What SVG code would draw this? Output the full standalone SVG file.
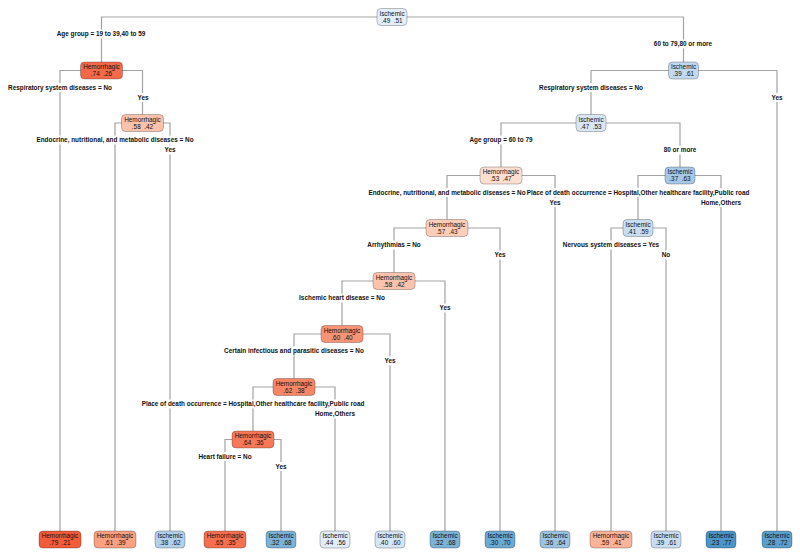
<svg xmlns="http://www.w3.org/2000/svg" width="800" height="557" viewBox="0 0 800 557">
<style>
.ln{fill:none;stroke:#a3a3a3;stroke-width:1.2}
.bx{stroke:#000;stroke-opacity:0.32;stroke-width:0.8}
.nt{font-family:"Liberation Sans",Arial,sans-serif;font-size:6.4px;fill:#111;text-anchor:middle;white-space:pre}
.lb{font-family:"Liberation Sans",Arial,sans-serif;font-size:6.4px;font-weight:bold;fill:#111;text-anchor:middle}
.bg{fill:#fff}
</style>
<rect width="800" height="557" fill="#fff"/>
<g id="connectors">
<path class="ln" d="M101.5 62 V17 H683.5 V62"/>
<path class="ln" d="M60 531 V70.5 H142.5 V114.5"/>
<path class="ln" d="M115 531 V123 H170 V531"/>
<path class="ln" d="M591 114.5 V70.5 H777 V531"/>
<path class="ln" d="M501 167 V123 H680 V167"/>
<path class="ln" d="M447 219.5 V175.5 H555 V531"/>
<path class="ln" d="M638 219.5 V175.5 H721 V531"/>
<path class="ln" d="M611 531 V228 H666 V531"/>
<path class="ln" d="M394 272.5 V228 H500 V531"/>
<path class="ln" d="M342 325.5 V281 H445 V531"/>
<path class="ln" d="M294 378.5 V334 H390 V531"/>
<path class="ln" d="M253 431 V387 H335 V531"/>
<path class="ln" d="M225 531 V439.5 H281 V531"/>
</g>
<g id="labels">
<rect class="bg" x="56" y="29.5" width="91" height="9"/><text class="lb" x="101" y="36.3">Age group = 19 to 39,40 to 59</text>
<rect class="bg" x="653" y="39.5" width="60" height="9"/><text class="lb" x="683" y="46.3">60 to 79,80 or more</text>
<rect class="bg" x="7" y="83" width="106" height="9"/><text class="lb" x="60" y="89.8">Respiratory system diseases = No</text>
<rect class="bg" x="136" y="93" width="14" height="9"/><text class="lb" x="143" y="99.8">Yes</text>
<rect class="bg" x="538" y="83" width="106" height="9"/><text class="lb" x="591" y="89.8">Respiratory system diseases = No</text>
<rect class="bg" x="770" y="93" width="14" height="9"/><text class="lb" x="777" y="99.8">Yes</text>
<rect class="bg" x="36" y="135.5" width="158" height="9"/><text class="lb" x="115" y="142.3">Endocrine, nutritional, and metabolic diseases = No</text>
<rect class="bg" x="163" y="145.5" width="14" height="9"/><text class="lb" x="170" y="152.3">Yes</text>
<rect class="bg" x="468.5" y="135.5" width="65" height="9"/><text class="lb" x="501" y="142.3">Age group = 60 to 79</text>
<rect class="bg" x="662.5" y="145.5" width="35" height="9"/><text class="lb" x="680" y="152.3">80 or more</text>
<rect class="bg" x="369" y="188" width="156" height="9"/><text class="lb" x="447" y="194.8">Endocrine, nutritional, and metabolic diseases = No</text>
<rect class="bg" x="548" y="198" width="14" height="9"/><text class="lb" x="555" y="204.8">Yes</text>
<rect class="bg" x="527" y="188" width="222" height="9"/><text class="lb" x="638" y="194.8">Place of death occurrence = Hospital,Other healthcare facility,Public road</text>
<rect class="bg" x="700" y="198" width="42" height="9"/><text class="lb" x="721" y="204.8">Home,Others</text>
<rect class="bg" x="366.5" y="240.5" width="55" height="9"/><text class="lb" x="394" y="247.3">Arrhythmias = No</text>
<rect class="bg" x="493" y="250.5" width="14" height="9"/><text class="lb" x="500" y="257.3">Yes</text>
<rect class="bg" x="562" y="240.5" width="98" height="9"/><text class="lb" x="611" y="247.3">Nervous system diseases = Yes</text>
<rect class="bg" x="660.5" y="250.5" width="11" height="9"/><text class="lb" x="666" y="257.3">No</text>
<rect class="bg" x="298.5" y="293.5" width="87" height="9"/><text class="lb" x="342" y="300.3">Ischemic heart disease = No</text>
<rect class="bg" x="438" y="303.5" width="14" height="9"/><text class="lb" x="445" y="310.3">Yes</text>
<rect class="bg" x="223.5" y="346.5" width="141" height="9"/><text class="lb" x="294" y="353.3">Certain infectious and parasitic diseases = No</text>
<rect class="bg" x="383" y="356.5" width="14" height="9"/><text class="lb" x="390" y="363.3">Yes</text>
<rect class="bg" x="142" y="399.5" width="222" height="9"/><text class="lb" x="253" y="406.3">Place of death occurrence = Hospital,Other healthcare facility,Public road</text>
<rect class="bg" x="314" y="409.5" width="42" height="9"/><text class="lb" x="335" y="416.3">Home,Others</text>
<rect class="bg" x="197.5" y="452" width="55" height="9"/><text class="lb" x="225" y="458.8">Heart failure = No</text>
<rect class="bg" x="274" y="462" width="14" height="9"/><text class="lb" x="281" y="468.8">Yes</text>
</g>
<g id="n1"><rect class="bx" x="377" y="8.5" width="30" height="17" rx="4" fill="#E4EEF8"/><text class="nt" x="392" y="15.8">Ischemic</text><text class="nt" x="392" y="22.8">.49  .51</text></g>
<g id="n2"><rect class="bx" x="80.5" y="62" width="42" height="17" rx="4" fill="#F5694A"/><text class="nt" x="101.5" y="69.3">Hemorrhagic</text><text class="nt" x="101.5" y="76.3">.74  .26</text></g>
<g id="n3"><rect class="bx" x="668.5" y="62" width="30" height="17" rx="4" fill="#C3D9EF"/><text class="nt" x="683.5" y="69.3">Ischemic</text><text class="nt" x="683.5" y="76.3">.39  .61</text></g>
<g id="n4"><rect class="bx" x="121.5" y="114.5" width="42" height="17" rx="4" fill="#FCC2AC"/><text class="nt" x="142.5" y="121.8">Hemorrhagic</text><text class="nt" x="142.5" y="128.8">.58  .42</text></g>
<g id="n5"><rect class="bx" x="576" y="114.5" width="30" height="17" rx="4" fill="#D9E7F4"/><text class="nt" x="591" y="121.8">Ischemic</text><text class="nt" x="591" y="128.8">.47  .53</text></g>
<g id="n6"><rect class="bx" x="480" y="167" width="42" height="17" rx="4" fill="#FDDFD2"/><text class="nt" x="501" y="174.3">Hemorrhagic</text><text class="nt" x="501" y="181.3">.53  .47</text></g>
<g id="n7"><rect class="bx" x="665" y="167" width="30" height="17" rx="4" fill="#A6C8E5"/><text class="nt" x="680" y="174.3">Ischemic</text><text class="nt" x="680" y="181.3">.37  .63</text></g>
<g id="n8"><rect class="bx" x="426" y="219.5" width="42" height="17" rx="4" fill="#FCCDB9"/><text class="nt" x="447" y="226.8">Hemorrhagic</text><text class="nt" x="447" y="233.8">.57  .43</text></g>
<g id="n13"><rect class="bx" x="623" y="219.5" width="30" height="17" rx="4" fill="#CADEF0"/><text class="nt" x="638" y="226.8">Ischemic</text><text class="nt" x="638" y="233.8">.41  .59</text></g>
<g id="n9"><rect class="bx" x="373" y="272.5" width="42" height="17" rx="4" fill="#FCC2AC"/><text class="nt" x="394" y="279.8">Hemorrhagic</text><text class="nt" x="394" y="286.8">.58  .42</text></g>
<g id="n10"><rect class="bx" x="321" y="325.5" width="42" height="17" rx="4" fill="#F99375"/><text class="nt" x="342" y="332.8">Hemorrhagic</text><text class="nt" x="342" y="339.8">.60  .40</text></g>
<g id="n11"><rect class="bx" x="273" y="378.5" width="42" height="17" rx="4" fill="#F88566"/><text class="nt" x="294" y="385.8">Hemorrhagic</text><text class="nt" x="294" y="392.8">.62  .38</text></g>
<g id="n12"><rect class="bx" x="232" y="431" width="42" height="17" rx="4" fill="#F77858"/><text class="nt" x="253" y="438.3">Hemorrhagic</text><text class="nt" x="253" y="445.3">.64  .36</text></g>
<g id="leafA"><rect class="bx" x="39" y="531" width="42" height="17" rx="4" fill="#F45B3A"/><text class="nt" x="60" y="538.3">Hemorrhagic</text><text class="nt" x="60" y="545.3">.79  .21</text></g>
<g id="leafB"><rect class="bx" x="94" y="531" width="42" height="17" rx="4" fill="#FAA183"/><text class="nt" x="115" y="538.3">Hemorrhagic</text><text class="nt" x="115" y="545.3">.61  .39</text></g>
<g id="leafC"><rect class="bx" x="155" y="531" width="30" height="17" rx="4" fill="#B3D0EA"/><text class="nt" x="170" y="538.3">Ischemic</text><text class="nt" x="170" y="545.3">.38  .62</text></g>
<g id="leafD"><rect class="bx" x="204" y="531" width="42" height="17" rx="4" fill="#F6704F"/><text class="nt" x="225" y="538.3">Hemorrhagic</text><text class="nt" x="225" y="545.3">.65  .35</text></g>
<g id="leafE"><rect class="bx" x="266" y="531" width="30" height="17" rx="4" fill="#7AB2D8"/><text class="nt" x="281" y="538.3">Ischemic</text><text class="nt" x="281" y="545.3">.32  .68</text></g>
<g id="leafF"><rect class="bx" x="320" y="531" width="30" height="17" rx="4" fill="#E2ECF7"/><text class="nt" x="335" y="538.3">Ischemic</text><text class="nt" x="335" y="545.3">.44  .56</text></g>
<g id="leafG"><rect class="bx" x="375" y="531" width="30" height="17" rx="4" fill="#D5E5F4"/><text class="nt" x="390" y="538.3">Ischemic</text><text class="nt" x="390" y="545.3">.40  .60</text></g>
<g id="leafH"><rect class="bx" x="430" y="531" width="30" height="17" rx="4" fill="#7AB2D8"/><text class="nt" x="445" y="538.3">Ischemic</text><text class="nt" x="445" y="545.3">.32  .68</text></g>
<g id="leafI"><rect class="bx" x="485" y="531" width="30" height="17" rx="4" fill="#6CA9D3"/><text class="nt" x="500" y="538.3">Ischemic</text><text class="nt" x="500" y="545.3">.30  .70</text></g>
<g id="leafJ"><rect class="bx" x="540" y="531" width="30" height="17" rx="4" fill="#9BC3E2"/><text class="nt" x="555" y="538.3">Ischemic</text><text class="nt" x="555" y="545.3">.36  .64</text></g>
<g id="leafK"><rect class="bx" x="590" y="531" width="42" height="17" rx="4" fill="#FBB39A"/><text class="nt" x="611" y="538.3">Hemorrhagic</text><text class="nt" x="611" y="545.3">.59  .41</text></g>
<g id="leafL"><rect class="bx" x="651" y="531" width="30" height="17" rx="4" fill="#C9DDF0"/><text class="nt" x="666" y="538.3">Ischemic</text><text class="nt" x="666" y="545.3">.39  .61</text></g>
<g id="leafM"><rect class="bx" x="706" y="531" width="30" height="17" rx="4" fill="#4C95C9"/><text class="nt" x="721" y="538.3">Ischemic</text><text class="nt" x="721" y="545.3">.23  .77</text></g>
<g id="leafN"><rect class="bx" x="762" y="531" width="30" height="17" rx="4" fill="#5C9FCE"/><text class="nt" x="777" y="538.3">Ischemic</text><text class="nt" x="777" y="545.3">.28  .72</text></g>
</svg>
